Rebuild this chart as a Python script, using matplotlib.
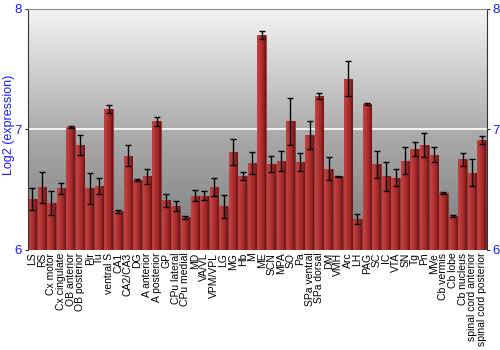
import numpy as np
import matplotlib
matplotlib.use("Agg")
import matplotlib.pyplot as plt
from matplotlib.colors import LinearSegmentedColormap

regions = ["LS", "RS", "Cx motor", "Cx cingulate", "OB anterior", "OB posterior", "Pir", "Tu",
           "ventral S", "CA1", "CA2/CA3", "DG", "A anterior", "A posterior", "GP", "CPu lateral",
           "CPu medial", "MD", "VA/VL", "VPM/VPL", "LG", "MG", "Hb", "M", "ME", "SCN", "MPA", "SO",
           "Pa", "SPa ventral", "SPa dorsal", "DM", "VMH", "Arc", "LH", "PAG", "SC", "IC", "VTA",
           "SN", "Tg", "Pn", "MVe", "Cb vermis", "Cb lobe", "Cb nucleus", "spinal cord anterior",
           "spinal cord posterior"]
values = [6.42, 6.52, 6.39, 6.51, 7.02, 6.87, 6.51, 6.53,
          7.17, 6.32, 6.78, 6.58, 6.61, 7.065, 6.41, 6.365,
          6.27, 6.45, 6.45, 6.52, 6.36, 6.81, 6.61, 6.72, 7.78, 6.71, 6.74, 7.065,
          6.73, 6.95, 7.28, 6.675, 6.61, 7.42, 6.255, 7.21, 6.71, 6.61, 6.60,
          6.74, 6.835, 6.87, 6.79, 6.47, 6.28, 6.75, 6.64,
          6.91]
errors = [0.09, 0.127, 0.10, 0.048, 0.01, 0.083, 0.13, 0.065,
          0.032, 0.015, 0.086, 0.005, 0.06, 0.04, 0.055, 0.04,
          0.015, 0.045, 0.036, 0.076, 0.093, 0.106, 0.033, 0.09, 0.032, 0.066, 0.083, 0.195,
          0.077, 0.115, 0.025, 0.097, 0.005, 0.145, 0.039, 0.008, 0.113, 0.12, 0.068,
          0.112, 0.057, 0.1, 0.06, 0.008, 0.01, 0.055, 0.11,
          0.035]
yticks = [6, 7, 8]

blue = "#1a1aff"
plt.rcParams['font.family'] = ['Liberation Sans', 'DejaVu Sans']

fig = plt.figure(figsize=(5, 3.5), dpi=100)
ax = fig.add_axes([0.055, 0.286, 0.918, 0.689])

x = np.arange(len(regions))

# background gradient
bg = LinearSegmentedColormap.from_list("bg", ["#7a7a7a", "#adadad", "#f4f4f4"])
grad = np.linspace(0, 1, 256).reshape(-1, 1)
ax.imshow(grad, cmap=bg, aspect="auto", extent=[0, 1, 0, 1], transform=ax.transAxes,
          origin="lower", zorder=0)
ax.axhline(7, color="white", lw=1.2, zorder=1)

bars = ax.bar(x, np.array(values) - 6, bottom=6, width=0.9, color="#b03030",
              edgecolor="#7a2020", linewidth=0.4, zorder=2)
barcmap = LinearSegmentedColormap.from_list("bar", ["#c04444", "#b83636", "#a02828", "#6a1414"])
hgrad = np.linspace(0, 1, 64).reshape(1, -1)
for b in bars:
    x0, y0 = b.get_x(), b.get_y()
    im = ax.imshow(hgrad, cmap=barcmap, aspect="auto",
                   extent=[x0, x0 + b.get_width(), y0, y0 + b.get_height()],
                   zorder=2.5)
    im.set_clip_path(b)
ax.set_xlim(-0.5, len(regions) - 0.5)
ax.set_ylim(6, 8)

ax.errorbar(x, values, yerr=errors, fmt="none", ecolor="black", elinewidth=1,
            capsize=2, capthick=1, zorder=3)

ax.set_xticks(x)
ax.set_xticklabels(regions, rotation=90, fontsize=7.5)
ax.tick_params(axis="x", length=0, pad=2)
ax.set_yticks(yticks)
ax.set_yticklabels([str(t) for t in yticks])
ax.tick_params(axis="y", colors="#333333", labelcolor=blue, labelsize=9.5, length=2.5,
               pad=1.5, right=True, labelright=True, direction="out")
ax.set_ylabel("Log2 (expression)", color=blue, fontsize=9)
ax.yaxis.set_label_coords(-0.028, 0.52)

for s in ["left", "right"]:
    ax.spines[s].set_color("#333333")
ax.spines["top"].set_color("#888888")
ax.spines["bottom"].set_visible(False)

fig.savefig("out.png", dpi=100)
